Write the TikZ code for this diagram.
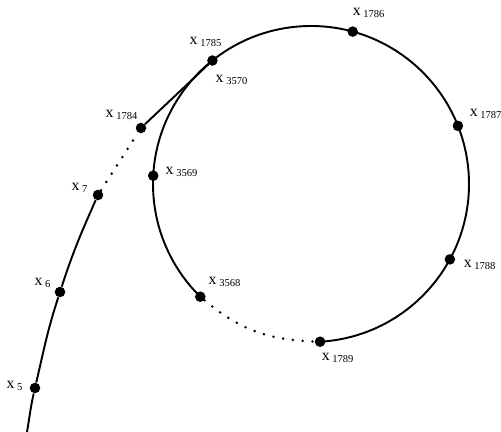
\documentclass[tikz,border=0pt]{standalone}
\usepackage{fontspec}
\setmainfont{Liberation Serif}
\usetikzlibrary{calc}

\newcommand{\xsub}[1]{x\,\textsubscript{#1}}

\begin{document}
\begin{tikzpicture}[
    font=\fontsize{9}{10}\selectfont,
    pt/.style={circle, fill=black, inner sep=0pt, minimum size=6pt},
    orbit/.style={line width=1.1pt, black},
    gap/.style={line width=1.6pt, line cap=round, dash pattern=on 0pt off 5.6pt},
    lbl/.style={inner sep=1pt},
]
\useasboundingbox (0,0) rectangle (10.02,8.64);

% ============================================================
% Cycle (circle, explicit polar positions)
% ============================================================
\coordinate (c) at (6.22,4.96);
\node[pt] (p1785) at ($(c)+(128.6:3.16)$) {};
\node[pt] (p1786) at ($(c)+(74.7:3.16)$) {};
\node[pt] (p1787) at ($(c)+(21.6:3.16)$) {};
\node[pt] (p1788) at ($(c)+(-28.5:3.16)$) {};
\node[pt] (p1789) at ($(c)+(-86.7:3.16)$) {};
\node[pt] (p3568) at ($(c)+(225.5:3.16)$) {};
\node[pt] (p3569) at ($(c)+(177:3.16)$) {};

% ============================================================
% Tail (explicit coordinates)
% ============================================================
\coordinate (start) at (0.54,0);
\node[pt] (p5)    at (0.70,0.88) {};
\node[pt] (p6)    at (1.20,2.80) {};
\node[pt] (p7)    at (1.96,4.74) {};
\node[pt] (p1784) at (2.82,6.08) {};

% ============================================================
% Solid pieces
% ============================================================
\draw[orbit] (start) to[out=80, in=257] (p5)
                     to[out=77, in=252] (p6)
                     to[out=72, in=246] (p7);
\draw[orbit] (p1784) -- (p1785);
\draw[orbit] (p1789.center) arc[start angle=-86.7, end angle=225.5, radius=3.16];

% ============================================================
% Dotted gaps
% ============================================================
\draw[gap] (p7) -- (p1784);
\draw[gap] (p3568) to[out=-40, in=178] (p1789);

% ============================================================
% Labels
% ============================================================
\node[lbl] (l1785) at (4.12,7.80) {\xsub{1785}};
\node[lbl] (l3570) at (4.64,7.04) {\xsub{3570}};
\node[lbl] (l1786) at (7.38,8.38) {\xsub{1786}};
\node[lbl] (l1787) at (9.72,6.36) {\xsub{1787}};
\node[lbl] (l1788) at (9.60,3.34) {\xsub{1788}};
\node[lbl] (l1789) at (6.76,1.48) {\xsub{1789}};
\node[lbl] (l3568) at (4.50,3.00) {\xsub{3568}};
\node[lbl] (l3569) at (3.64,5.20) {\xsub{3569}};
\node[lbl] (l1784) at (2.44,6.34) {\xsub{1784}};
\node[lbl] (l7)    at (1.60,4.88) {\xsub{7}};
\node[lbl] (l6)    at (0.86,2.98) {\xsub{6}};
\node[lbl] (l5)    at (0.30,0.92) {\xsub{5}};

\end{tikzpicture}
\end{document}
